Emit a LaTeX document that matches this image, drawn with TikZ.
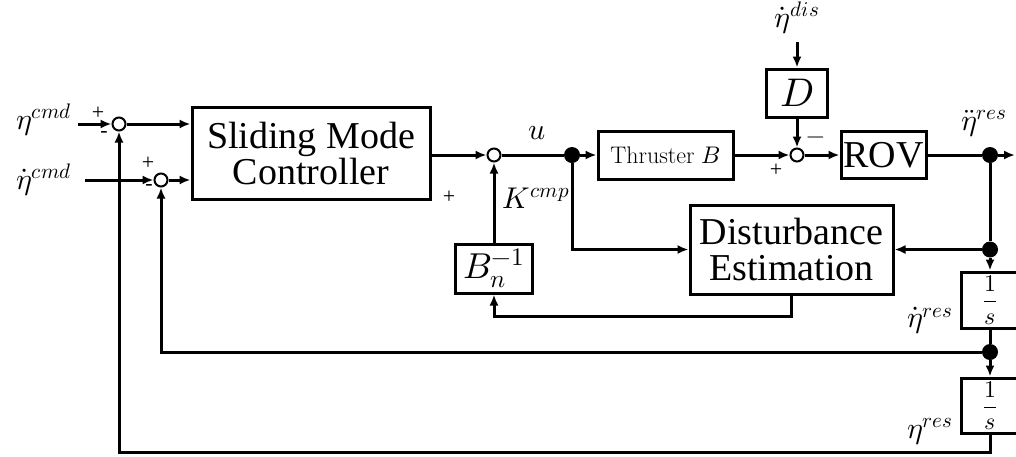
\documentclass[tikz,border=0pt]{standalone}
\usepackage{fontspec}
\usepackage{unicode-math}
\setmainfont{Liberation Serif}
\setmathfont{Latin Modern Math}
\newfontfamily\tms{Liberation Serif}
\newfontfamily\lmr{Latin Modern Roman}
\usetikzlibrary{arrows.meta,calc}
\tikzset{
  ln/.style={line width=3pt},
  arr/.style={line width=3pt,-{Latex[length=11pt,width=9pt]}},
  blk/.style={draw,line width=3pt,inner sep=0pt,align=center,fill=white},
  sumc/.style={circle,draw,line width=2pt,minimum size=13pt,inner sep=0pt,fill=white},
  dotc/.style={circle,fill=black,minimum size=16pt,inner sep=0pt},
  big/.style={font=\tms\fontsize{38}{40}\selectfont},
  lab/.style={font=\fontsize{30}{32}\selectfont,inner sep=0pt},
  sgn/.style={font=\tms\fontsize{22}{24}\selectfont,inner sep=0pt},
}
\begin{document}
\begin{tikzpicture}[x=1pt,y=-1pt]
\useasboundingbox (0,0) rectangle (1016,456);
\clip (0,0) rectangle (1016,456);
% blocks
\node[blk,big,minimum width=238pt,minimum height=92pt] (smc) at (311,153) {Sliding Mode\\[-4pt]Controller};
\node[blk,minimum width=135pt,minimum height=48pt,font=\lmr\fontsize{24}{26}\selectfont] (thr) at (665.5,155) {Thruster $B$};
\node[blk,minimum width=61pt,minimum height=48pt,font=\fontsize{40}{42}\selectfont] (dbox) at (797,93) {$D$};
\node[blk,minimum width=85pt,minimum height=47pt,font=\tms\fontsize{38}{40}\selectfont] (rov) at (883.5,155) {ROV};
\node[blk,big,minimum width=203pt,minimum height=89pt] (de) at (791.5,249.5) {Disturbance\\[-4pt]Estimation};
\node[blk,minimum width=77pt,minimum height=49pt,font=\fontsize{36}{38}\selectfont] (bn) at (494,268.5) {$B_n^{-1}$};
\node[blk,minimum width=58pt,minimum height=56pt,font=\fontsize{24}{26}\selectfont] (s1) at (990,300) {$\dfrac{1}{s}$};
\node[blk,minimum width=58pt,minimum height=55pt,font=\fontsize{24}{26}\selectfont] (s2) at (990,405.5) {$\dfrac{1}{s}$};
% junctions
\node[sumc] (sum1) at (119,124) {};
\node[sumc] (sum2) at (161,180) {};
\node[sumc] (sum3) at (494,155) {};
\node[sumc] (sum4) at (797,155) {};
\node[dotc] (j1) at (572,155) {};
\node[dotc] (j2) at (990,155) {};
\node[dotc] (j3) at (990,249.5) {};
\node[dotc] (j4) at (990,352) {};
\coordinate (in1) at (78,124);
\coordinate (in2) at (85,180);
\coordinate (dis) at (797,42);
\coordinate (out) at (1015,155);
\coordinate (c1) at (990,452);
\coordinate (c2) at (791.5,316);
% labels
\node[lab] (l1) at (44,120) {$\eta^{cmd}$};
\node[lab] (l2) at (44,180) {$\dot{\eta}^{cmd}$};
\node[lab] (lu) at (537,133) {$u$};
\node[lab] (lk) at (536,198) {$K^{cmp}$};
\node[lab] (ldis) at (797,18) {$\dot{\eta}^{dis}$};
\node[lab] (ldd) at (984,124) {$\ddot{\eta}^{res}$};
\node[lab] (ld) at (930,321) {$\dot{\eta}^{res}$};
\node[lab] (le) at (930,432) {$\eta^{res}$};
\node[sgn] (p1) at (98,113) {+};
\node[sgn] (m1) at (104,134) {-};
\node[sgn] (p2) at (148,163) {+};
\node[sgn] (m2) at (149,187) {-};
\node[sgn] (p3) at (449,197) {+};
\node[sgn] (p4) at (776,170) {+};
\node[sgn,font=\fontsize{24}{26}\selectfont] (m4) at (816,140) {$-$};
% connectors
\draw[arr] (in1) -- (sum1);
\draw[arr] (in2) -- (sum2);
\draw[arr] (sum1) -- (smc.west |- sum1);
\draw[arr] (sum2) -- (smc.west |- sum2);
\draw[arr] (smc.east |- sum3) -- (sum3);
\draw[ln] (sum3) -- (j1);
\draw[arr] (j1) -- (thr);
\draw[arr] (thr) -- (sum4);
\draw[arr] (dis) -- (dbox);
\draw[arr] (dbox) -- (sum4);
\draw[arr] (sum4) -- (rov);
\draw[ln] (rov) -- (j2);
\draw[arr] (j2) -- (out);
\draw[ln] (j2) -- (j3);
\draw[arr] (j3) -- (de.east |- j3);
\draw[arr] (j3) -- (s1);
\draw[ln] (s1) -- (j4);
\draw[arr] (j4) -- (s2);
\draw[arr] (j4) -| (sum2);
\draw[arr] (s2) -- (c1) -| (sum1);
\draw[arr] (j1) |- (de.west |- j3);
\draw[arr] (de) -- (c2) -| (bn);
\draw[arr] (bn) -- (sum3);
\end{tikzpicture}
\end{document}
